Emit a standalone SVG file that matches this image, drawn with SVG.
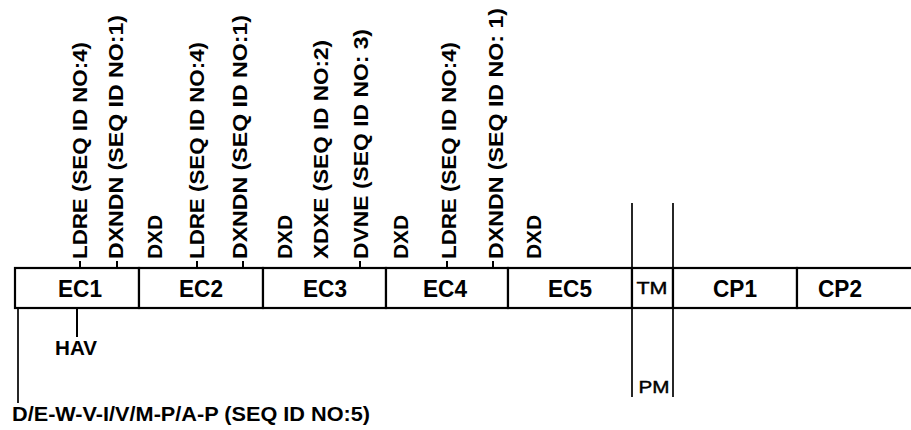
<svg xmlns="http://www.w3.org/2000/svg" width="911" height="430" viewBox="0 0 911 430">
<style>
.box{fill:#fff;stroke:#000;stroke-width:2.2}
.lbl{font-family:"Liberation Sans",Arial,sans-serif;font-weight:bold;font-size:23px;fill:#000;text-anchor:middle}
.site{font-family:"Liberation Sans",Arial,sans-serif;font-weight:bold;font-size:21px;fill:#000}
.small{font-family:"Liberation Sans",Arial,sans-serif;font-size:17px;fill:#000;text-anchor:middle;stroke:#000;stroke-width:0.4}
.ln{stroke:#000;stroke-width:2;fill:none}
.thin{stroke:#000;stroke-width:1.7;fill:none}
</style>
<rect width="911" height="430" fill="#fff"/>
<g id="EC1"><rect class="box" x="15" y="268" width="124" height="40"/><text class="lbl" x="80" y="297" textLength="44" lengthAdjust="spacingAndGlyphs">EC1</text></g>
<g id="EC2"><rect class="box" x="139" y="268" width="124" height="40"/><text class="lbl" x="201" y="297" textLength="44" lengthAdjust="spacingAndGlyphs">EC2</text></g>
<g id="EC3"><rect class="box" x="263" y="268" width="123" height="40"/><text class="lbl" x="325" y="297" textLength="44" lengthAdjust="spacingAndGlyphs">EC3</text></g>
<g id="EC4"><rect class="box" x="386" y="268" width="122" height="40"/><text class="lbl" x="445" y="297" textLength="44" lengthAdjust="spacingAndGlyphs">EC4</text></g>
<g id="EC5"><rect class="box" x="508" y="268" width="124" height="40"/><text class="lbl" x="570" y="297" textLength="44" lengthAdjust="spacingAndGlyphs">EC5</text></g>
<g id="TM"><rect class="box" x="632" y="268" width="41" height="40"/><text class="small" x="652" y="294" textLength="31" lengthAdjust="spacingAndGlyphs">TM</text></g>
<g id="CP1"><rect class="box" x="673" y="268" width="124" height="40"/><text class="lbl" x="735" y="297" textLength="44" lengthAdjust="spacingAndGlyphs">CP1</text></g>
<g id="CP2"><rect class="box" x="797" y="268" width="120" height="40"/><text class="lbl" x="840" y="297" textLength="44" lengthAdjust="spacingAndGlyphs">CP2</text></g>
<g id="connectors">
<line class="ln" x1="80" y1="261" x2="80" y2="268"/>
<line class="ln" x1="117" y1="261" x2="117" y2="268"/>
<line class="ln" x1="197" y1="261" x2="197" y2="268"/>
<line class="ln" x1="243" y1="261" x2="243" y2="268"/>
<line class="ln" x1="360" y1="261" x2="360" y2="268"/>
<line class="ln" x1="447" y1="261" x2="447" y2="268"/>
<line class="ln" x1="493" y1="261" x2="493" y2="268"/>
<line class="ln" x1="77" y1="308" x2="77" y2="337"/>
<line class="thin" x1="18" y1="308" x2="18" y2="403"/>
<line class="thin" x1="632" y1="203" x2="632" y2="397"/>
<line class="thin" x1="673" y1="203" x2="673" y2="397"/>
</g>
<g id="sites">
<text class="site" transform="translate(87,259) rotate(-90)" textLength="217" lengthAdjust="spacingAndGlyphs">LDRE (SEQ ID NO:4)</text>
<text class="site" transform="translate(123,259) rotate(-90)" textLength="244" lengthAdjust="spacingAndGlyphs">DXNDN (SEQ ID NO:1)</text>
<text class="site" transform="translate(162,259) rotate(-90)" textLength="44" lengthAdjust="spacingAndGlyphs">DXD</text>
<text class="site" transform="translate(204,259) rotate(-90)" textLength="217" lengthAdjust="spacingAndGlyphs">LDRE (SEQ ID NO:4)</text>
<text class="site" transform="translate(247,259) rotate(-90)" textLength="244" lengthAdjust="spacingAndGlyphs">DXNDN (SEQ ID NO:1)</text>
<text class="site" transform="translate(292,259) rotate(-90)" textLength="44" lengthAdjust="spacingAndGlyphs">DXD</text>
<text class="site" transform="translate(328,259) rotate(-90)" textLength="219" lengthAdjust="spacingAndGlyphs">XDXE (SEQ ID NO:2)</text>
<text class="site" transform="translate(368,259) rotate(-90)" textLength="230" lengthAdjust="spacingAndGlyphs">DVNE (SEQ ID NO: 3)</text>
<text class="site" transform="translate(408,259) rotate(-90)" textLength="44" lengthAdjust="spacingAndGlyphs">DXD</text>
<text class="site" transform="translate(456,259) rotate(-90)" textLength="217" lengthAdjust="spacingAndGlyphs">LDRE (SEQ ID NO:4)</text>
<text class="site" transform="translate(503,259) rotate(-90)" textLength="251" lengthAdjust="spacingAndGlyphs">DXNDN (SEQ ID NO: 1)</text>
<text class="site" transform="translate(541,259) rotate(-90)" textLength="44" lengthAdjust="spacingAndGlyphs">DXD</text>
</g>
<g id="HAV"><text class="site" x="76" y="355" font-size="18" text-anchor="middle" textLength="42" lengthAdjust="spacingAndGlyphs">HAV</text></g>
<g id="PM"><text class="small" x="654" y="393" textLength="31" lengthAdjust="spacingAndGlyphs">PM</text></g>
<g id="motif"><text class="site" x="12" y="421" textLength="358" lengthAdjust="spacingAndGlyphs">D/E-W-V-I/V/M-P/A-P (SEQ ID NO:5)</text></g>
</svg>
